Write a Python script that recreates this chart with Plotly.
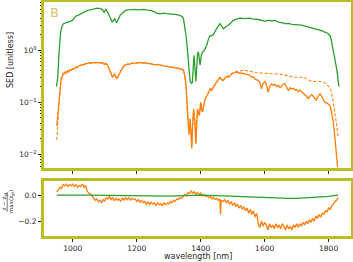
import plotly.graph_objects as go

# ---------------- data ----------------
wl_g = [949, 953, 957, 962, 967, 971, 977, 983, 990, 999, 1004, 1009, 1016, 1025, 1035, 1046, 1056, 1066, 1077, 1086,
        1092, 1098, 1103, 1108, 1113, 1119, 1124, 1131, 1137, 1142, 1148, 1156, 1165, 1175, 1184, 1192, 1203, 1213, 1223,
        1233, 1244, 1255, 1262, 1273, 1283, 1293, 1304, 1315, 1325, 1335, 1341, 1346, 1350, 1354, 1358, 1361, 1364, 1367,
        1371, 1374, 1377, 1379, 1382, 1385, 1388, 1390, 1393, 1396, 1398, 1402, 1406, 1412, 1419, 1424, 1429, 1434, 1440,
        1445, 1450, 1455, 1460, 1465, 1471, 1478, 1486, 1494, 1502, 1512, 1523, 1538, 1554, 1562, 1570, 1585, 1601, 1612,
        1622, 1632, 1645, 1655, 1663, 1675, 1685, 1695, 1705, 1715, 1726, 1740, 1750, 1757, 1767, 1778, 1788, 1797, 1804,
        1808, 1811, 1815, 1820, 1824, 1828, 1832]
sed_g = [0.2, 0.3, 0.9, 2.2, 2.9, 3.2, 3.3, 3.35, 3.5, 3.7, 4.1, 4.45, 4.6, 4.95, 5.3, 5.75, 5.9, 6.2, 6.35, 6.2,
         6.0, 5.3, 6.0, 5.5, 4.6, 3.9, 3.4, 4.0, 3.3, 3.8, 4.6, 5.2, 5.75, 5.9, 6.0, 6.0, 5.9, 6.05, 6.0,
         5.8, 5.75, 5.4, 5.1, 4.95, 5.1, 5.0, 4.95, 4.8, 4.75, 4.6, 4.4, 4.0, 3.0, 1.9, 1.1, 0.68, 0.4, 0.25,
         0.23, 0.24, 0.5, 0.79, 0.45, 0.25, 0.5, 0.85, 0.92, 0.6, 0.51, 0.8, 0.92, 1.0, 1.25, 1.6, 1.9, 1.85, 2.0,
         2.3, 2.55, 2.9, 3.2, 2.9, 2.55, 2.8, 2.95, 3.3, 3.7, 3.9, 4.1, 4.0, 4.1, 3.95, 3.9, 3.8, 3.55, 3.75,
         3.6, 3.7, 3.4, 3.35, 3.2, 3.25, 3.1, 3.1, 3.0, 3.0, 2.88, 2.75, 2.6, 2.55, 2.5, 2.35, 2.2, 2.1, 1.9,
         1.6, 1.25, 0.95, 0.68, 0.48, 0.33, 0.2]

wl_o = [950, 952, 955, 958, 961, 964, 967, 970, 973, 977, 980, 984, 988, 992, 996, 1000, 1004, 1009, 1014, 1019,
        1025, 1030, 1035, 1040, 1046, 1052, 1057, 1062, 1067, 1072, 1077, 1083, 1088, 1093, 1098, 1103, 1108, 1113,
        1119, 1124, 1128, 1131, 1134, 1137, 1142, 1148, 1154, 1160, 1165, 1172, 1178, 1185, 1192, 1198, 1205, 1212,
        1219, 1226, 1233, 1242, 1250, 1258, 1266, 1273, 1281, 1288, 1296, 1304, 1312, 1320, 1328, 1335, 1341, 1346,
        1350, 1354, 1358, 1361, 1364, 1367, 1370, 1372, 1375, 1378, 1380, 1382, 1385, 1388, 1390, 1393, 1396, 1400,
        1403, 1406, 1410, 1414, 1419, 1424, 1429, 1435, 1440, 1445, 1450, 1455, 1460, 1465, 1471, 1477, 1483, 1488,
        1492, 1497, 1503, 1508, 1513, 1518, 1523, 1528, 1533, 1538, 1543, 1548, 1553, 1559, 1564, 1569, 1575, 1580,
        1585, 1590, 1595, 1601, 1606, 1611, 1616, 1622, 1627, 1632, 1637, 1643, 1648, 1653, 1658, 1663, 1668, 1674,
        1680, 1685, 1690, 1695, 1700, 1705, 1710, 1716, 1721, 1726, 1731, 1736, 1741, 1747, 1752, 1757, 1762, 1767,
        1773, 1778, 1783, 1788, 1793, 1798, 1804, 1808, 1811, 1815, 1818, 1821, 1824, 1826, 1828]
sed_o = [0.035, 0.05, 0.09, 0.15, 0.24, 0.3, 0.31, 0.36, 0.35, 0.38, 0.36, 0.40, 0.38, 0.42, 0.41, 0.44, 0.43, 0.47,
         0.46, 0.50, 0.51, 0.53, 0.52, 0.55, 0.55, 0.57, 0.56, 0.58, 0.57, 0.58, 0.57, 0.58, 0.56, 0.57, 0.53, 0.56,
         0.52, 0.44, 0.36, 0.30, 0.33, 0.35, 0.31, 0.28, 0.32, 0.38, 0.45, 0.50, 0.52, 0.54, 0.53, 0.56, 0.55, 0.57,
         0.56, 0.58, 0.56, 0.57, 0.55, 0.55, 0.53, 0.52, 0.53, 0.51, 0.50, 0.49, 0.48, 0.47, 0.46, 0.46, 0.44, 0.44,
         0.43, 0.41, 0.33, 0.21, 0.065, 0.04, 0.024, 0.048, 0.025, 0.013, 0.04, 0.075, 0.05, 0.042, 0.016, 0.05,
         0.075, 0.06, 0.056, 0.10, 0.07, 0.065, 0.095, 0.117, 0.13, 0.15, 0.18, 0.17, 0.2, 0.22, 0.245, 0.27, 0.30,
         0.27, 0.26, 0.30, 0.31, 0.30, 0.33, 0.35, 0.36, 0.37, 0.38, 0.36, 0.37, 0.35, 0.36, 0.35, 0.34, 0.33, 0.33,
         0.30, 0.31, 0.28, 0.27, 0.26, 0.24, 0.18, 0.23, 0.25, 0.21, 0.157, 0.2, 0.226, 0.21, 0.22, 0.2, 0.21, 0.19,
         0.21, 0.22, 0.226, 0.2, 0.17, 0.19, 0.18, 0.185, 0.17, 0.175, 0.16, 0.17, 0.157, 0.15, 0.14, 0.13, 0.117,
         0.125, 0.14, 0.13, 0.12, 0.109, 0.13, 0.146, 0.13, 0.11, 0.10, 0.098, 0.092, 0.087, 0.07, 0.056, 0.04,
         0.027, 0.018, 0.0128, 0.009, 0.0057]

wl_d = [950, 953, 956, 959, 963, 967, 972, 980, 990, 1000, 1010, 1020, 1030, 1040, 1050, 1060, 1075, 1090, 1100,
        1108, 1113, 1119, 1124, 1131, 1137, 1142, 1148, 1155, 1165, 1180, 1200, 1220, 1240, 1260, 1280, 1300, 1320,
        1340, 1346, 1350, 1354, 1358, 1361, 1364, 1367, 1370, 1372, 1375, 1378, 1382, 1385, 1388, 1390, 1396, 1400,
        1406, 1414, 1424, 1435, 1445, 1455, 1460, 1471, 1483, 1492, 1503, 1513, 1525, 1538, 1555, 1570, 1585, 1601,
        1616, 1632, 1648, 1663, 1680, 1695, 1710, 1726, 1737, 1747, 1762, 1778, 1790, 1798, 1804, 1809, 1813, 1818,
        1822, 1825, 1830]
sed_d = [0.019, 0.04, 0.09, 0.15, 0.24, 0.31, 0.36, 0.38, 0.41, 0.44, 0.47, 0.50, 0.53, 0.55, 0.56, 0.57, 0.58,
         0.57, 0.55, 0.52, 0.45, 0.36, 0.31, 0.34, 0.29, 0.32, 0.38, 0.46, 0.52, 0.55, 0.57, 0.57, 0.55, 0.53, 0.51,
         0.48, 0.46, 0.43, 0.41, 0.33, 0.21, 0.066, 0.04, 0.025, 0.047, 0.025, 0.014, 0.04, 0.074, 0.042, 0.017, 0.05,
         0.074, 0.056, 0.1, 0.067, 0.115, 0.15, 0.18, 0.22, 0.27, 0.30, 0.27, 0.31, 0.34, 0.37, 0.39, 0.40, 0.41,
         0.39, 0.37, 0.365, 0.36, 0.36, 0.36, 0.345, 0.33, 0.315, 0.30, 0.30, 0.295, 0.27, 0.25, 0.25, 0.25, 0.23,
         0.21, 0.19, 0.157, 0.12, 0.075, 0.05, 0.036, 0.0216]

wl_rg = [950, 980, 1000, 1050, 1100, 1150, 1200, 1250, 1300, 1350, 1400, 1450, 1500, 1550, 1600, 1625, 1650, 1675,
         1700, 1725, 1750, 1775, 1800, 1815, 1830]
res_g = [0.0, 0.002, 0.0, 0.0, -0.002, -0.004, -0.005, -0.007, -0.008, -0.004, 0.0, -0.005, -0.01, -0.015, -0.022,
         -0.026, -0.028, -0.026, -0.025, -0.022, -0.02, -0.016, -0.01, -0.005, 0.0]

wl_ro = [950, 955, 960, 965, 970, 975, 980, 985, 990, 995, 1000, 1005, 1010, 1015, 1020, 1025, 1030, 1035, 1040,
         1045, 1050, 1055, 1060, 1065, 1070, 1075, 1080, 1085, 1090, 1095, 1100, 1105, 1110, 1115, 1120, 1125, 1130,
         1135, 1140, 1145, 1150, 1155, 1160, 1165, 1170, 1175, 1180, 1185, 1190, 1195, 1200, 1205, 1210, 1215, 1220,
         1225, 1230, 1235, 1240, 1245, 1250, 1255, 1260, 1265, 1270, 1275, 1280, 1285, 1290, 1295, 1300, 1305, 1310,
         1315, 1320, 1325, 1330, 1335, 1340, 1345, 1350, 1355, 1360, 1365, 1370, 1375, 1380, 1385, 1390, 1395, 1400,
         1405, 1410, 1415, 1420, 1425, 1430, 1435, 1440, 1445, 1450, 1455, 1460, 1462, 1464, 1470, 1475, 1480, 1485,
         1490, 1495, 1500, 1505, 1510, 1515, 1520, 1525, 1530, 1535, 1540, 1545, 1550, 1555, 1560, 1565, 1570, 1575,
         1580, 1585, 1590, 1595, 1600, 1605, 1610, 1615, 1620, 1625, 1630, 1635, 1640, 1645, 1650, 1655, 1660, 1665,
         1670, 1675, 1680, 1685, 1690, 1695, 1700, 1705, 1710, 1715, 1720, 1725, 1730, 1735, 1740, 1745, 1750, 1755,
         1760, 1765, 1770, 1775, 1780, 1785, 1790, 1795, 1800, 1805, 1810, 1815, 1820, 1825, 1830]
res_o = [0.025, 0.04, 0.06, 0.05, 0.08, 0.07, 0.085, 0.065, 0.08, 0.07, 0.085, 0.065, 0.08, 0.06, 0.075, 0.065,
         0.085, 0.06, 0.075, 0.03, 0.015, 0.01, -0.01, -0.02, -0.04, -0.03, -0.05, -0.04, -0.06, -0.035, -0.045,
         -0.02, -0.03, -0.01, -0.035, -0.02, -0.045, -0.025, -0.04, -0.03, -0.05, -0.025, -0.04, -0.02, -0.035,
         -0.02, -0.04, -0.025, -0.035, -0.03, -0.05, -0.035, -0.055, -0.04, -0.06, -0.05, -0.07, -0.05, -0.075,
         -0.055, -0.07, -0.06, -0.08, -0.06, -0.075, -0.065, -0.085, -0.06, -0.075, -0.06, -0.07, -0.05, -0.06,
         -0.04, -0.05, -0.03, -0.035, -0.02, -0.025, -0.01, 0.005, -0.005, 0.02, 0.01, 0.03, 0.015, 0.025, 0.005,
         0.02, 0.0, 0.015, -0.005, 0.005, -0.01, -0.005, -0.02, -0.01, -0.03, -0.015, -0.035, -0.025, -0.04, -0.03,
         -0.15, -0.04, -0.05, -0.035, -0.06, -0.04, -0.07, -0.05, -0.08, -0.06, -0.09, -0.07, -0.1, -0.08, -0.11,
         -0.09, -0.12, -0.1, -0.14, -0.11, -0.15, -0.12, -0.17, -0.14, -0.22, -0.25, -0.2, -0.24, -0.21, -0.23,
         -0.27, -0.22, -0.25, -0.23, -0.26, -0.22, -0.25, -0.23, -0.26, -0.22, -0.24, -0.27, -0.23, -0.26, -0.24,
         -0.27, -0.23, -0.25, -0.22, -0.25, -0.22, -0.24, -0.21, -0.23, -0.2, -0.22, -0.19, -0.21, -0.18, -0.2,
         -0.16, -0.18, -0.15, -0.17, -0.14, -0.15, -0.12, -0.13, -0.1, -0.11, -0.08, -0.07, -0.05, -0.04, -0.02]

sed_ticks = [0.01, 0.1, 1]
sed_ticktext = ["10<sup>\u22122</sup>", "10<sup>\u22121</sup>", "10<sup>0</sup>"]
res_ticks = [-0.2, 0.0]
res_ticktext = ["\u22120.2", "0.0"]
wl_ticks = [1000, 1200, 1400, 1600, 1800]

GREEN = "#2ca02c"
ORANGE = "#ff7f0e"
OLIVE = "#bcbd22"
TXT = "#262626"
FONT = "DejaVu Sans"

minor_vals = []
for dec in [0.001, 0.01, 0.1, 1]:
    for m in range(2, 10):
        minor_vals.append(m * dec)

fig = go.Figure()
fig.add_trace(go.Scatter(x=wl_g, y=sed_g, mode="lines", line=dict(color=GREEN, width=1.3),
                         xaxis="x", yaxis="y", showlegend=False))
fig.add_trace(go.Scatter(x=wl_d, y=sed_d, mode="lines", line=dict(color=ORANGE, width=1.1, dash="3px,2px"),
                         xaxis="x", yaxis="y", showlegend=False))
fig.add_trace(go.Scatter(x=wl_o, y=sed_o, mode="lines", line=dict(color=ORANGE, width=1.3),
                         xaxis="x", yaxis="y", showlegend=False))
fig.add_trace(go.Scatter(x=wl_ro, y=res_o, mode="lines", line=dict(color=ORANGE, width=1.3),
                         xaxis="x2", yaxis="y2", showlegend=False))
fig.add_trace(go.Scatter(x=wl_rg, y=res_g, mode="lines", line=dict(color=GREEN, width=1.2),
                         xaxis="x2", yaxis="y2", showlegend=False))

axis_common = dict(showline=True, mirror=True, linecolor=OLIVE, linewidth=3, showgrid=False, zeroline=False,
                   automargin=False,
                   ticks="outside", ticklen=3, tickwidth=1, tickcolor=TXT,
                   tickfont=dict(family=FONT, size=7.5, color=TXT))

fig.update_layout(
    template="none",
    width=353, height=262, autosize=False,
    margin=dict(l=44, r=2, t=2, b=26, pad=0),
    paper_bgcolor="white", plot_bgcolor="white",
    xaxis=dict(domain=[0, 1], range=[910, 1870], anchor="y", tickvals=wl_ticks, showticklabels=False,
               **axis_common),
    yaxis=dict(domain=[0.2906, 1], type="log", range=[-2.26, 0.92], anchor="x", tickvals=sed_ticks,
               ticktext=sed_ticktext,
               minor=dict(tickvals=minor_vals, ticks="outside", ticklen=1.5, tickcolor=TXT),
               **axis_common),
    xaxis2=dict(domain=[0, 1], range=[910, 1870], anchor="y2", tickvals=wl_ticks, **axis_common),
    yaxis2=dict(domain=[0, 0.235], range=[-0.315, 0.108], anchor="x2", tickvals=res_ticks,
                ticktext=res_ticktext, **axis_common),
)

def px_x(px):
    return (px - 44) / (353 - 44 - 2)

def px_y(py):
    return (262 - 26 - py) / (262 - 2 - 26)

annotations = [
    dict(text="B", xref="paper", yref="paper", x=px_x(48), y=px_y(3), xanchor="left", yanchor="top",
         showarrow=False, font=dict(family=FONT, size=13, color="#d8c46a")),
    dict(text="wavelength [nm]", xref="paper", yref="paper", x=0.5, y=px_y(262), xanchor="center",
         yanchor="bottom", showarrow=False, borderpad=0, font=dict(family=FONT, size=8, color=TXT)),
    dict(text="SED [unitless]", xref="paper", yref="paper", x=px_x(10), y=px_y(60),
         xanchor="center", yanchor="middle", textangle=-90, showarrow=False,
         font=dict(family=FONT, size=8, color=TXT)),
    dict(text="z \u2212 z<sub>gt</sub>", xref="paper", yref="paper", x=px_x(3.5), y=px_y(202),
         xanchor="center", yanchor="middle", textangle=-90, showarrow=False,
         font=dict(family=FONT, size=5.5, color=TXT)),
    dict(text="max(z<sub>gt</sub>)", xref="paper", yref="paper", x=px_x(11), y=px_y(202),
         xanchor="center", yanchor="middle", textangle=-90, showarrow=False,
         font=dict(family=FONT, size=5.5, color=TXT)),
]
fig.update_layout(annotations=annotations)
fig.add_shape(type="line", xref="paper", yref="paper", x0=px_x(7.2), x1=px_x(7.2), y0=px_y(192), y1=px_y(212),
              line=dict(color=TXT, width=0.6))

fig.write_html("out.html", config={"displayModeBar": False},
               post_script="document.body.style.margin='0';")
